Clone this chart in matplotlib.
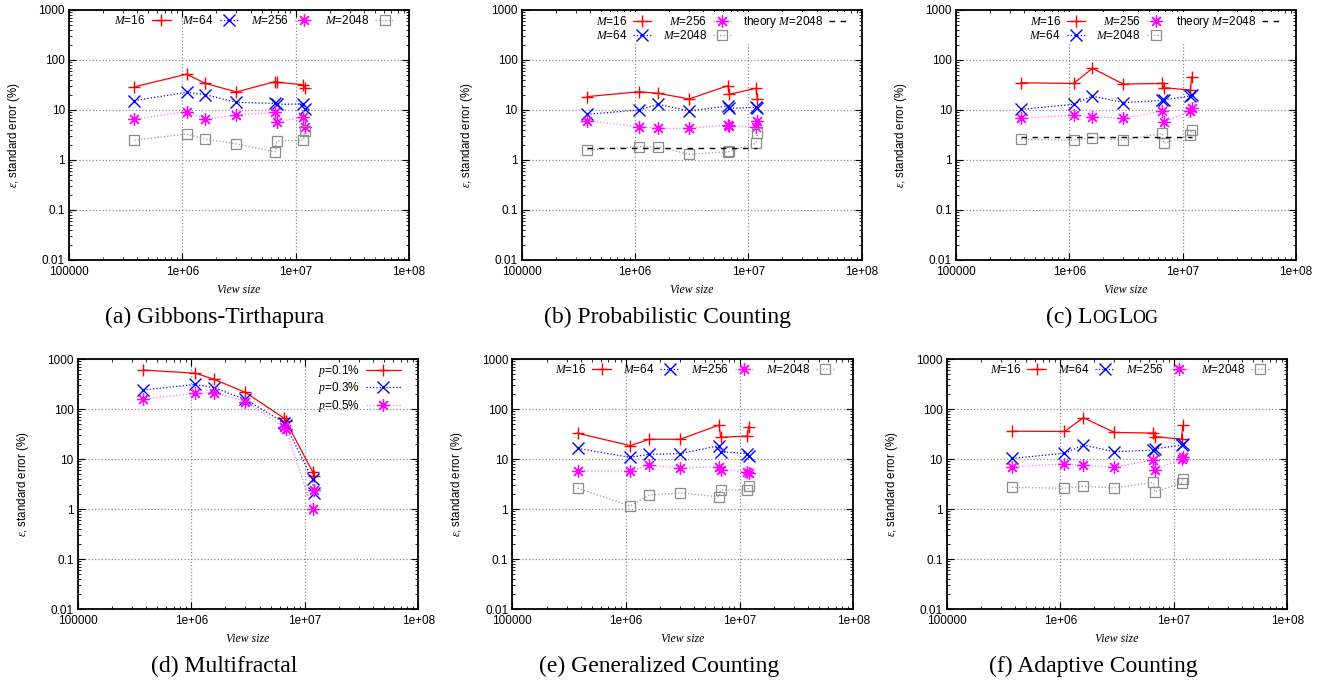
import numpy as np
import matplotlib
matplotlib.use("Agg")
import matplotlib.pyplot as plt
from matplotlib.ticker import FixedLocator, FixedFormatter, LogLocator, NullFormatter

plt.rcParams['font.family'] = ['Liberation Sans', 'DejaVu Sans']
plt.rcParams['mathtext.fontset'] = 'custom'
plt.rcParams['mathtext.it'] = 'Liberation Serif:italic'
plt.rcParams['mathtext.rm'] = 'Liberation Sans'

# ---- data ----
view_size = [3.77e5, 1.09e6, 1.6e6, 3.0e6, 6.6e6, 6.8e6, 1.17e7, 1.2e7]

x_ticks = [1e5, 1e6, 1e7, 1e8]
x_tick_labels = ["100000", "1e+06", "1e+07", "1e+08"]
y_ticks = [0.01, 0.1, 1, 10, 100, 1000]
y_tick_labels = ["0.01", "0.1", "1", "10", "100", "1000"]

m_labels = [r"$M$=16", r"$M$=64", r"$M$=256", r"$M$=2048"]
p_labels = [r"$p$=0.1%", r"$p$=0.3%", r"$p$=0.5%"]
theory_label = r"theory $M$=2048"

# (a) Gibbons-Tirthapura
a_m16 = [29, 52, 34, 23, 37, 36, 32, 27]
a_m64 = [15.4, 22.6, 20.3, 14.2, 13.6, 13.0, 13.2, 10.5]
a_m256 = [6.5, 9.3, 6.5, 7.9, 9.0, 5.8, 7.1, 4.6]
a_m2048 = [2.5, 3.3, 2.6, 2.1, 1.45, 2.4, 2.5, 3.8]

# (b) Probabilistic Counting
b_m16 = [18.5, 23.2, 21.6, 16.6, 30.6, 20.6, 27.2, 16.6]
b_m64 = [8.2, 10.0, 13.0, 9.6, 12.0, 10.8, 11.3, 11.0]
b_m256 = [6.1, 4.6, 4.3, 4.3, 5.0, 4.8, 4.5, 6.0]
b_m2048 = [1.6, 1.85, 1.83, 1.3, 1.45, 1.5, 2.15, 3.5]
b_theory = [1.72, 1.72]

# (c) LogLog
c_m16 = [35, 34, 68, 33, 34, 28, 25, 46]
c_m64 = [10.3, 13, 19, 14, 15.5, 16, 19, 20]
c_m256 = [6.8, 7.9, 7.4, 6.8, 9.5, 5.8, 9.5, 10.8]
c_m2048 = [2.6, 2.5, 2.8, 2.5, 3.4, 2.15, 3.2, 3.9]
c_theory = [2.87, 2.87]

# (d) Multifractal
d_p01 = [600, 520, 390, 215, 65, 58, 5.6, 4.6]
d_p03 = [240, 310, 265, 155, 53, 47, 3.9, 2.1]
d_p05 = [158, 205, 212, 140, 43, 40, 1.0, 2.4]

# (e) Generalized Counting
e_m16 = [32.7, 18.5, 24.8, 24.8, 47.9, 27.2, 28.8, 44.3]
e_m64 = [16.3, 10.8, 12.4, 12.8, 18.5, 14, 12.8, 11.3]
e_m256 = [5.8, 5.7, 7.5, 6.6, 7.0, 6.1, 5.6, 5.3]
e_m2048 = [2.6, 1.15, 1.9, 2.1, 1.75, 2.4, 2.4, 2.9]

# (f) Adaptive Counting
f_m16 = [36, 35.5, 67, 34, 33, 28, 25, 47]
f_m64 = [10.3, 13, 19, 14, 15, 16, 19, 20]
f_m256 = [7.0, 8.0, 7.5, 6.9, 9.6, 6.0, 10, 11]
f_m2048 = [2.7, 2.6, 2.85, 2.65, 3.4, 2.2, 3.3, 3.9]

# ---- styles ----
series_style = [
    dict(color='#ff0000', ls='-', marker='+', ms=9, mew=1.0),
    dict(color='#0000ff', ls=':', marker='x', ms=8, mew=1.0),
    dict(color='#ff00ff', ls=':', marker=(8, 2, 0), ms=9, mew=0.9),
    dict(color='#8c8c8c', ls=':', marker='s', ms=7, mew=0.9, mfc='none'),
]
line_colors = ['#ff0000', '#0000ff', '#ff70ff', '#999999']
LW = 0.9

W, H = 1326, 682
fig = plt.figure(figsize=(W / 100, H / 100), dpi=100)

# axes boxes in pixels: left, top, right, bottom
boxes = {
    'a': (69, 10, 409, 260),
    'b': (521.7, 10, 861.7, 260),
    'c': (956, 10, 1296, 260),
    'd': (77.7, 359, 418.3, 609),
    'e': (512.3, 359, 853.3, 609),
    'f': (946.7, 359, 1287.3, 609),
}


def make_axes(key):
    l, t, r, b = boxes[key]
    ax = fig.add_axes([l / W, 1 - b / H, (r - l) / W, (b - t) / H])
    ax.set_xscale('log')
    ax.set_yscale('log')
    ax.set_xlim(1e5, 1e8)
    ax.set_ylim(0.01, 1000)
    ax.xaxis.set_major_locator(FixedLocator(x_ticks))
    ax.xaxis.set_major_formatter(FixedFormatter(x_tick_labels))
    ax.yaxis.set_major_locator(FixedLocator(y_ticks))
    ax.yaxis.set_major_formatter(FixedFormatter(y_tick_labels))
    for axis in (ax.xaxis, ax.yaxis):
        axis.set_minor_locator(LogLocator(base=10, subs=np.arange(2, 10)))
        axis.set_minor_formatter(NullFormatter())
    ax.tick_params(which='both', direction='in', top=True, right=True,
                   labelsize=8.5, colors='black')
    ax.tick_params(which='major', length=5, width=0.8)
    ax.tick_params(axis='x', which='major', pad=4.5)
    ax.tick_params(axis='y', which='major', pad=3)
    ax.tick_params(which='minor', length=2.5, width=0.6)
    ax.grid(True, which='major', ls=':', color='#8a8a8a', lw=0.9)
    for sp in ax.spines.values():
        sp.set_linewidth(1.3)
    ax.set_xlabel('View size', fontfamily='Liberation Serif', fontstyle='italic',
                  fontsize=8.5, va='center')
    ax.xaxis.set_label_coords(0.5, -0.12)
    ax.set_ylabel(r'$\varepsilon$, standard error (%)', fontsize=8.3, va='center')
    ax.yaxis.set_label_coords(-0.162, 0.5)
    return ax


def draw_series(ax, series):
    handles = []
    for ys, st, lc in zip(series, series_style, line_colors):
        ax.plot(view_size, ys, color=lc, ls=st['ls'], lw=LW)
        h, = ax.plot(view_size, ys, lw=LW, **st)
        h.set_linestyle('none')
        # legend proxy carries both line and marker
        proxy, = ax.plot([], [], lw=LW, **st)
        proxy.set_color(lc)
        proxy.set_markeredgecolor(st['color'])
        handles.append(proxy)
    return handles


def add_legend(ax, handles, labels, ncol, anchor, hl, frame):
    leg = ax.legend(handles, labels, loc='upper right', bbox_to_anchor=anchor,
                    ncol=ncol, markerfirst=False, frameon=frame, framealpha=1,
                    fontsize=8.5, handlelength=hl, handletextpad=0.5,
                    columnspacing=1.0, labelspacing=0.1, borderpad=0.15,
                    borderaxespad=0.0, numpoints=1)
    if frame:
        leg.get_frame().set_facecolor('white')
        leg.get_frame().set_edgecolor('none')
    return leg


# (a)
ax = make_axes('a')
hs = draw_series(ax, [a_m16, a_m64, a_m256, a_m2048])
add_legend(ax, hs, m_labels, 4, (0.962, 0.99), 1.6, False)

# (b)
ax = make_axes('b')
hs = draw_series(ax, [b_m16, b_m64, b_m256, b_m2048])
ht, = ax.plot([view_size[0], view_size[-1]], b_theory, color='black', ls=(0, (4, 4)), lw=1.0)
add_legend(ax, hs + [ht], m_labels + [theory_label], 3, (0.96, 0.99), 1.5, True)

# (c)
ax = make_axes('c')
hs = draw_series(ax, [c_m16, c_m64, c_m256, c_m2048])
ht, = ax.plot([view_size[0], view_size[-1]], c_theory, color='black', ls=(0, (4, 4)), lw=1.0)
add_legend(ax, hs + [ht], m_labels + [theory_label], 3, (0.958, 0.99), 1.5, True)

# (d)
ax = make_axes('d')
hs = draw_series(ax, [d_p01, d_p03, d_p05])
add_legend(ax, hs, p_labels, 1, (0.955, 0.99), 3.0, False)

# (e)
ax = make_axes('e')
hs = draw_series(ax, [e_m16, e_m64, e_m256, e_m2048])
add_legend(ax, hs, m_labels, 4, (0.951, 0.99), 1.6, False)

# (f)
ax = make_axes('f')
hs = draw_series(ax, [f_m16, f_m64, f_m256, f_m2048])
add_legend(ax, hs, m_labels, 4, (0.954, 0.99), 1.6, False)

# ---- captions ----
CAP = 17
renderer = fig.canvas.get_renderer()


def caption(key, parts, base_y):
    l, t, r, b = boxes[key]
    cx = (l + r) / 2 - 24
    texts = []
    widths = []
    for s, size in parts:
        tx = fig.text(0, 0, s, fontsize=size, fontfamily='Liberation Serif',
                      va='baseline', ha='left')
        widths.append(tx.get_window_extent(renderer).width)
        texts.append(tx)
    x = cx - sum(widths) / 2
    for tx, w in zip(texts, widths):
        tx.set_position((x / W, 1 - base_y / H))
        x += w


SC = CAP * 0.76
caption('a', [("(a) Gibbons-Tirthapura", CAP)], 323)
caption('b', [("(b) Probabilistic Counting", CAP)], 323)
caption('c', [("(c) L", CAP), ("OG", SC), ("L", CAP), ("OG", SC)], 323)
caption('d', [("(d) Multifractal", CAP)], 672)
caption('e', [("(e) Generalized Counting", CAP)], 672)
caption('f', [("(f) Adaptive Counting", CAP)], 672)

fig.savefig('out.png', dpi=100)
